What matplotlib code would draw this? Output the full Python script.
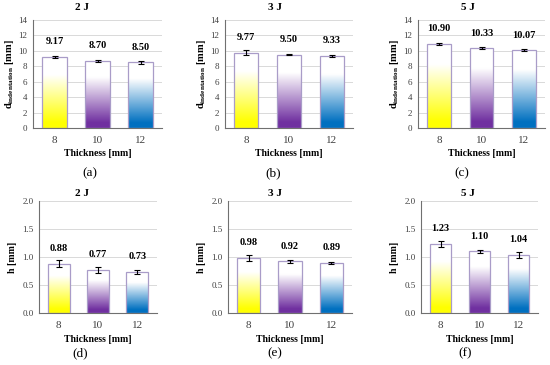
import numpy as np
import matplotlib.pyplot as plt
from matplotlib.colors import LinearSegmentedColormap
from matplotlib.patches import Rectangle

plt.rcParams['font.family'] = ['Liberation Serif', 'DejaVu Serif']
plt.rcParams['mathtext.fontset'] = 'custom'
plt.rcParams['mathtext.rm'] = 'Liberation Serif'
plt.rcParams['mathtext.bf'] = 'Liberation Serif:bold'

# Datos
thickness = ['8', '10', '12']
energies = ['2 J', '3 J', '5 J']
d_vals = [[9.17, 8.70, 8.50], [9.77, 9.50, 9.33], [10.90, 10.33, 10.07]]
d_err = [[0.15, 0.10, 0.15], [0.35, 0.10, 0.12], [0.15, 0.12, 0.15]]
h_vals = [[0.88, 0.77, 0.73], [0.98, 0.92, 0.89], [1.23, 1.10, 1.04]]
h_err = [[0.06, 0.06, 0.04], [0.06, 0.02, 0.02], [0.05, 0.03, 0.05]]
panel_labels = ['(a)', '(b)', '(c)', '(d)', '(e)', '(f)']

bar_colors = ['#FFFF00', '#7030A0', '#0070C0']
W, H = 550, 365

def px_axes(fig, left, right, top, bottom):
    return fig.add_axes([left / W, 1 - bottom / H, (right - left) / W, (bottom - top) / H])

def gradient_bars(ax, vals, errs, ymax, fmt, label_off):
    width = 0.56
    grad = np.linspace(0, 1, 256).reshape(-1, 1)
    for i, (v, e) in enumerate(zip(vals, errs)):
        cmap = LinearSegmentedColormap.from_list(
            'g', [(0, bar_colors[i]), (0.08, bar_colors[i]), (0.75, 'white'), (1, 'white')])
        ax.imshow(grad, extent=[i - width / 2, i + width / 2, 0, v], origin='lower',
                  cmap=cmap, aspect='auto', zorder=2)
        ax.add_patch(Rectangle((i - width / 2, 0), width, v, fill=False,
                               edgecolor='#A99CC8', linewidth=0.9, zorder=3))
        ax.errorbar(i, v, yerr=e, color='black', capsize=2, elinewidth=0.8,
                    capthick=0.8, zorder=4)
        ax.annotate(fmt.format(v), (i, v), xytext=(0, label_off), textcoords='offset points',
                    ha='center', va='center', fontsize=7.5, fontweight='bold')
    ax.set_xlim(-0.5, 2.5)
    ax.set_ylim(0, ymax)
    ax.set_xticks(range(3))
    ax.set_xticklabels(thickness)
    ax.grid(axis='y', color='#D9D9D9', linewidth=0.7, zorder=0)
    ax.set_axisbelow(True)
    for s in ['top', 'right']:
        ax.spines[s].set_visible(False)
    for s in ['left', 'bottom']:
        ax.spines[s].set_color('#707070')
        ax.spines[s].set_linewidth(0.8)
    ax.tick_params(length=0, colors='#404040')
    ax.tick_params(axis='x', labelsize=8, pad=6)
    ax.tick_params(axis='y', labelsize=6.5, pad=4)
    ax.set_xlabel('Thickness [mm]', fontsize=7, fontweight='bold', labelpad=3)

fig = plt.figure(figsize=(5.5, 3.65), dpi=100)

top_boxes = [(33, 162), (225, 353), (418, 545)]
bot_boxes = [(39, 157), (228, 352), (421, 538)]
title_x = [82, 275, 468]
label_x_top = [90, 273, 462]
label_x_bot = [80, 275, 465]

for k in range(3):
    ax = px_axes(fig, top_boxes[k][0], top_boxes[k][1], 20, 128)
    gradient_bars(ax, d_vals[k], d_err[k], 14, '{:.2f}', 11)
    ax.set_yticks(range(0, 15, 2))
    ax.set_ylabel(r'$\mathbf{d}_{\mathbf{indentation}}$ [mm]', fontsize=7.5,
                  fontweight='bold', labelpad=2)
    fig.text(title_x[k] / W, 1 - 8 / H, energies[k], ha='center', va='center',
             fontsize=8, fontweight='bold')
    fig.text(label_x_top[k] / W, 1 - 173 / H, panel_labels[k], ha='center', va='center',
             fontsize=9.5)

    ax = px_axes(fig, bot_boxes[k][0], bot_boxes[k][1], 201, 313)
    gradient_bars(ax, h_vals[k], h_err[k], 2.0, '{:.2f}', 11)
    ax.set_yticks(np.arange(0, 2.01, 0.5))
    ax.set_yticklabels(['{:.1f}'.format(t) for t in np.arange(0, 2.01, 0.5)])
    ax.set_ylabel('h [mm]', fontsize=7, fontweight='bold', labelpad=4)
    fig.text(title_x[k] / W, 1 - 193 / H, energies[k], ha='center', va='center',
             fontsize=8, fontweight='bold')
    fig.text(label_x_bot[k] / W, 1 - 353 / H, panel_labels[k + 3], ha='center', va='center',
             fontsize=9.5)

fig.savefig('out.png', dpi=100)
